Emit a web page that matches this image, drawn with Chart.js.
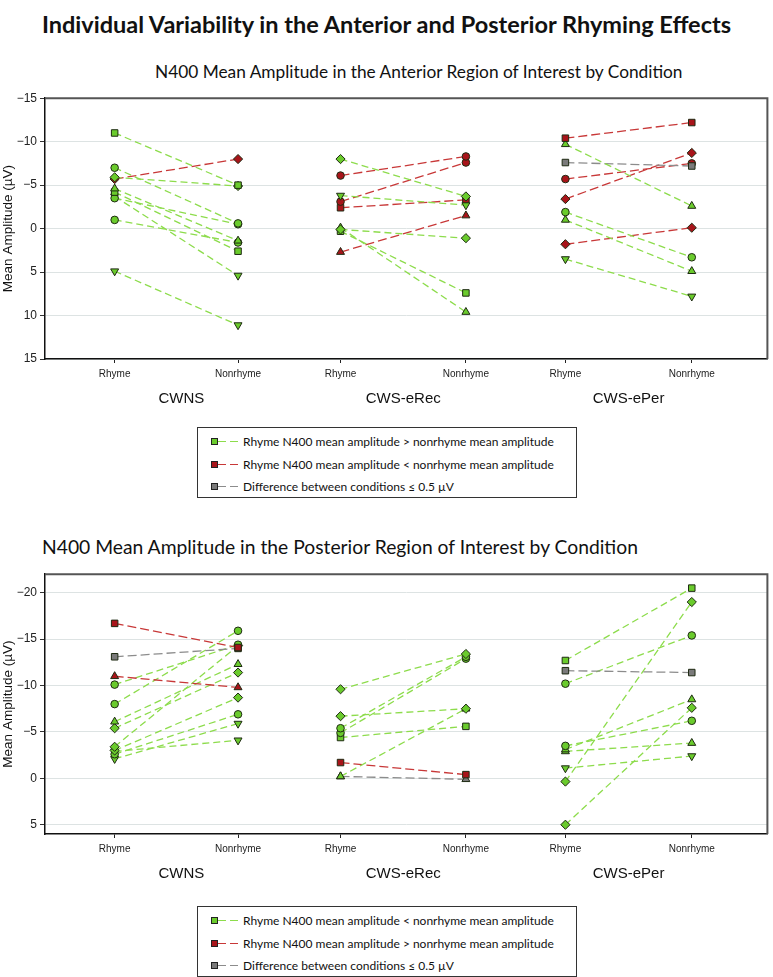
<!DOCTYPE html>
<html>
<head>
<meta charset="utf-8">
<script src="https://cdn.jsdelivr.net/npm/chart.js@4.4.1/dist/chart.umd.min.js"></script>
<style>
  body { margin: 0; background: #fff; width: 773px; height: 977px; position: relative; overflow: hidden; font-family: Lato, sans-serif; color: #111; }
  .t { position: absolute; white-space: nowrap; line-height: 1; }
  #main { top: 13px; left: 0; width: 773px; text-align: center; font-weight: bold; font-size: 23.5px; }
  #sub1 { top: 63px; left: 155px; font-size: 17.3px; }
  #sub2 { top: 537px; left: 42px; font-size: 19.3px; }
  canvas { position: absolute; left: 0; }
  .legend { position: absolute; left: 197px; width: 380px; height: 71px; border: 1px solid #333; box-sizing: border-box; font-size: 12px; }
  .row { position: absolute; left: 0; height: 12px; display: flex; align-items: center; }
  .mk { position: absolute; left: 13px; top: 3px; width: 5px; height: 5px; border: 1px solid #222; }
  .ln { position: absolute; left: 20px; top: 6px; width: 21px; height: 1px; }
  .tx { position: absolute; left: 45px; top: -1px; white-space: nowrap; }
</style>
</head>
<body>
<div class="t" id="main">Individual Variability in the Anterior and Posterior Rhyming Effects</div>
<div class="t" id="sub1">N400 Mean Amplitude in the Anterior Region of Interest by Condition</div>
<canvas id="ant" width="773" height="330" style="top:88px"></canvas>
<div class="legend" id="leg1" style="top:427px"></div>
<div class="t" id="sub2">N400 Mean Amplitude in the Posterior Region of Interest by Condition</div>
<canvas id="post" width="773" height="330" style="top:564px"></canvas>
<div class="legend" id="leg2" style="top:906px"></div>

<script>
// groups and conditions
const groups = ['CWNS', 'CWS-eRec', 'CWS-ePer'];
const conditions = ['Rhyme', 'Nonrhyme'];
// position of each condition on the x scale (uneven spacing like the original)
const catPos = [0.70, 1.94, 2.97, 4.23, 5.23, 6.50];

// kind: g = rhyme more negative, r = the other way, n = difference <= 0.5 uV
// shape: sq, ci, di, tu (triangle up), td (triangle down)

// anterior
const antCwnsRhyme    = [-11.0, -7.0, -5.9, -4.6, -4.2, -3.5, -3.7, -1.0, 4.9, -5.7];
const antCwnsNonrhyme = [-5.0, -0.6, -4.9, 1.4, 2.6, -0.5, 5.4, 1.6, 11.1, -8.0];
const antCwnsKind     = ['g', 'g', 'g', 'g', 'g', 'g', 'g', 'g', 'g', 'r'];
const antCwnsShape    = ['sq', 'ci', 'di', 'tu', 'sq', 'ci', 'td', 'ci', 'td', 'di'];

const antErecRhyme    = [-8.0, -6.1, -3.8, -3.1, -2.4, 0.1, 0.3, -0.1, 2.7];
const antErecNonrhyme = [-3.7, -8.3, -2.7, -7.6, -3.3, 1.1, 7.4, 9.6, -1.5];
const antErecKind     = ['g', 'r', 'g', 'r', 'r', 'g', 'g', 'g', 'r'];
const antErecShape    = ['di', 'ci', 'td', 'ci', 'sq', 'di', 'sq', 'tu', 'tu'];

const antEperRhyme    = [-10.4, -9.7, -7.6, -5.7, -3.4, -1.9, -1.0, 1.8, 3.5];
const antEperNonrhyme = [-12.2, -2.6, -7.2, -7.5, -8.7, 3.3, 4.9, -0.1, 7.8];
const antEperKind     = ['r', 'g', 'n', 'r', 'r', 'g', 'g', 'r', 'g'];
const antEperShape    = ['sq', 'tu', 'sq', 'ci', 'di', 'ci', 'tu', 'di', 'td'];

// posterior
const postCwnsRhyme    = [-16.7, -13.1, -11.0, -10.1, -8.0, -6.1, -5.4, -3.4, -3.0, -2.6, -2.9, -2.1];
const postCwnsNonrhyme = [-14.1, -14.0, -9.8, -14.4, -15.9, -12.3, -11.4, -14.3, -8.7, -6.9, -4.1, -5.9];
const postCwnsKind     = ['r', 'n', 'r', 'g', 'g', 'g', 'g', 'g', 'g', 'g', 'g', 'g'];
const postCwnsShape    = ['sq', 'sq', 'tu', 'ci', 'ci', 'tu', 'di', 'di', 'di', 'ci', 'td', 'td'];

const postErecRhyme    = [-9.6, -6.7, -5.4, -4.9, -4.4, -0.2, -1.7, -0.2];
const postErecNonrhyme = [-13.4, -7.5, -13.1, -12.9, -5.6, -7.5, -0.4, 0.1];
const postErecKind     = ['g', 'g', 'g', 'g', 'g', 'g', 'r', 'n'];
const postErecShape    = ['di', 'di', 'ci', 'ci', 'sq', 'tu', 'sq', 'tu'];

const postEperRhyme    = [-12.7, -11.6, -10.2, -3.5, -3.1, -2.9, -1.1, 0.35, 5.0];
const postEperNonrhyme = [-20.5, -11.4, -15.4, -6.2, -8.5, -3.8, -2.4, -19.0, -7.6];
const postEperKind     = ['g', 'n', 'g', 'g', 'g', 'g', 'g', 'g', 'g'];
const postEperShape    = ['sq', 'sq', 'ci', 'ci', 'tu', 'tu', 'td', 'di', 'di'];

const antTicks = [-15, -10, -5, 0, 5, 10, 15];
const postTicks = [-20, -15, -10, -5, 0, 5];

const antLegend = ['Rhyme N400 mean amplitude > nonrhyme mean amplitude',
  'Rhyme N400 mean amplitude < nonrhyme mean amplitude',
  'Difference between conditions \u2264 0.5 \u00b5V'];
const postLegend = ['Rhyme N400 mean amplitude < nonrhyme mean amplitude',
  'Rhyme N400 mean amplitude > nonrhyme mean amplitude',
  'Difference between conditions \u2264 0.5 \u00b5V'];

const kindStyle = {
  g: { fill: '#6acb2c', line: '#8ddc4c', dash: [7, 4] },
  r: { fill: '#a8141a', line: '#c83838', dash: [9, 4] },
  n: { fill: '#7a7a7a', line: '#8c8c8c', dash: [9, 4] }
};
const shapeStyle = {
  sq: ['rect', 0, 4.6],
  ci: ['circle', 0, 3.8],
  di: ['rectRot', 0, 4.6],
  tu: ['triangle', 0, 4.6],
  td: ['triangle', 180, 4.6]
};

function makeSets(g, rhyme, nonrhyme, kind, shape) {
  return rhyme.map((r, i) => {
    const k = kindStyle[kind[i]];
    const s = shapeStyle[shape[i]];
    return {
      data: [{ x: catPos[2 * g], y: r }, { x: catPos[2 * g + 1], y: nonrhyme[i] }],
      showLine: true,
      borderColor: k.line,
      borderWidth: 1.3,
      borderDash: k.dash,
      pointStyle: s[0],
      pointRotation: s[1],
      pointRadius: s[2],
      pointBackgroundColor: k.fill,
      pointBorderColor: '#1e2a12',
      pointBorderWidth: 1
    };
  });
}

const minus = v => (v < 0 ? '\u2212' + Math.abs(v) : String(v));

const frameAndGroups = {
  id: 'frameAndGroups',
  afterDraw(chart) {
    const { ctx, chartArea, scales: { x } } = chart;
    ctx.save();
    ctx.strokeStyle = '#555';
    ctx.lineWidth = 2;
    ctx.beginPath();
    ctx.moveTo(chartArea.left, chartArea.top);
    ctx.lineTo(chartArea.right, chartArea.top);
    ctx.lineTo(chartArea.right, chartArea.bottom);
    ctx.stroke();
    ctx.font = '15px "Liberation Sans"';
    ctx.fillStyle = '#111';
    ctx.textAlign = 'center';
    ctx.textBaseline = 'middle';
    groups.forEach((g, i) => {
      const cx = (x.getPixelForValue(catPos[2 * i]) + x.getPixelForValue(catPos[2 * i + 1])) / 2;
      ctx.fillText(g, cx + (i === 0 ? 5 : 0), chartArea.bottom + 40);
    });
    ctx.restore();
  }
};

function makeChart(id, datasets, yMin, yMax, yTicks, xHeight) {
  return new Chart(document.getElementById(id), {
    type: 'scatter',
    data: { datasets: datasets },
    plugins: [frameAndGroups],
    options: {
      responsive: false,
      animation: false,
      devicePixelRatio: 1,
      layout: { padding: { top: 8, right: 2, left: 0, bottom: 0 } },
      plugins: { legend: { display: false }, tooltip: { enabled: false } },
      scales: {
        x: {
          type: 'linear', min: 0, max: 7.26,
          afterBuildTicks: s => { s.ticks = catPos.map(v => ({ value: v })); },
          afterFit: s => { s.height = xHeight; },
          grid: { drawOnChartArea: false, tickLength: 4, color: '#222' },
          border: { color: '#111', width: 1.5 },
          ticks: {
            autoSkip: false, maxRotation: 0, padding: 5,
            font: { family: 'Liberation Sans', size: 10 }, color: '#222',
            callback: (v, i) => conditions[i % 2]
          }
        },
        y: {
          reverse: true, min: yMin, max: yMax,
          afterBuildTicks: s => { s.ticks = yTicks.map(v => ({ value: v })); },
          afterFit: s => { s.width = 45; },
          grid: { color: '#dde3e3', tickColor: '#333', tickLength: 5, lineWidth: 1 },
          border: { color: '#111', width: 1.5 },
          ticks: {
            padding: 3, font: { family: 'Liberation Sans', size: 12 }, color: '#222',
            callback: v => minus(v)
          },
          title: {
            display: true, text: 'Mean Amplitude (\u00b5V)',
            font: { family: 'Liberation Sans', size: 13.5 }, color: '#111',
            padding: { top: 0, bottom: 0 }
          }
        }
      }
    }
  });
}

const antSets = [].concat(
  makeSets(0, antCwnsRhyme, antCwnsNonrhyme, antCwnsKind, antCwnsShape),
  makeSets(1, antErecRhyme, antErecNonrhyme, antErecKind, antErecShape),
  makeSets(2, antEperRhyme, antEperNonrhyme, antEperKind, antEperShape)
);
const postSets = [].concat(
  makeSets(0, postCwnsRhyme, postCwnsNonrhyme, postCwnsKind, postCwnsShape),
  makeSets(1, postErecRhyme, postErecNonrhyme, postErecKind, postErecShape),
  makeSets(2, postEperRhyme, postEperNonrhyme, postEperKind, postEperShape)
);

makeChart('ant', antSets, -15, 15, antTicks, 59);
makeChart('post', postSets, -22, 6, postTicks, 60);

// legends
function fillLegend(id, texts) {
  const kinds = ['g', 'r', 'n'];
  const tops = [7, 30, 52];
  const box = document.getElementById(id);
  texts.forEach((t, i) => {
    const k = kindStyle[kinds[i]];
    const row = document.createElement('div');
    row.className = 'row';
    row.style.top = tops[i] + 'px';
    row.innerHTML = '<span class="mk" style="background:' + k.fill + '"></span>' +
      '<span class="ln" style="background:repeating-linear-gradient(90deg,' + k.line + ' 0 8px,transparent 8px 12px)"></span>' +
      '<span class="tx">' + t + '</span>';
    box.appendChild(row);
  });
}
fillLegend('leg1', antLegend);
fillLegend('leg2', postLegend);
</script>
</body>
</html>
